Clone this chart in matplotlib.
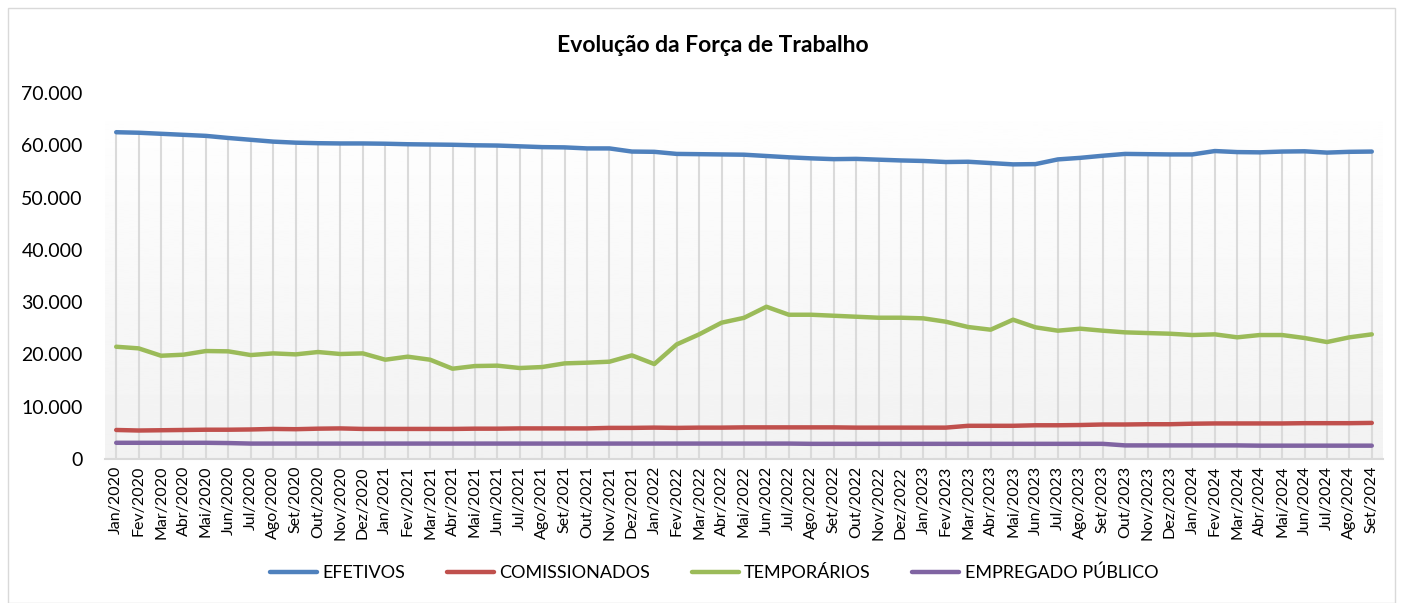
import numpy as np
import matplotlib
matplotlib.use("Agg")
import matplotlib.pyplot as plt
from matplotlib.ticker import FuncFormatter
from matplotlib.patches import Rectangle

plt.rcParams['font.family'] = ['Lato', 'DejaVu Sans']

meses = ["Jan", "Fev", "Mar", "Abr", "Mai", "Jun", "Jul", "Ago", "Set", "Out", "Nov", "Dez"]
anos = [2020, 2021, 2022, 2023, 2024]
rotulos = [f"{m}/{a}" for a in anos for m in meses][:57]

efetivos = [62500, 62400, 62200, 62000, 61800, 61400, 61050, 60700, 60500, 60400,
            60350, 60350, 60300, 60200, 60150, 60100, 60000, 59950, 59800, 59650,
            59600, 59400, 59400, 58800, 58750, 58350, 58300, 58250, 58200, 57950,
            57700, 57500, 57350, 57400, 57250, 57100, 57000, 56800, 56850, 56600,
            56350, 56400, 57300, 57600, 58000, 58350, 58300, 58250, 58250, 58900,
            58700, 58650, 58800, 58850, 58600, 58750, 58800]

comissionados = [5550, 5450, 5500, 5550, 5600, 5600, 5650, 5750, 5700, 5800,
                 5850, 5750, 5750, 5750, 5750, 5750, 5800, 5800, 5850, 5850,
                 5850, 5850, 5950, 5950, 6000, 5950, 6000, 6000, 6050, 6050,
                 6050, 6050, 6050, 6000, 6000, 6000, 6000, 6000, 6350, 6350,
                 6350, 6450, 6450, 6500, 6600, 6600, 6650, 6650, 6750, 6800,
                 6800, 6800, 6800, 6850, 6850, 6850, 6900]

temporarios = [21470, 21160, 19750, 19950, 20650, 20590, 19880, 20200, 20010, 20460,
               20080, 20200, 18990, 19570, 18990, 17270, 17780, 17850, 17400, 17590,
               18290, 18420, 18610, 19820, 18160, 21920, 23840, 26070, 27000, 29120,
               27590, 27590, 27400, 27210, 27020, 27020, 26900, 26260, 25240, 24730,
               26640, 25180, 24540, 24920, 24540, 24220, 24090, 23960, 23710, 23840,
               23270, 23710, 23710, 23140, 22370, 23270, 23840]

empregado_publico = [3100, 3100, 3100, 3100, 3100, 3050, 2950, 2950, 2950, 2950,
                     2950, 2950, 2950, 2950, 2950, 2950, 2950, 2950, 2950, 2950,
                     2950, 2950, 2950, 2950, 2950, 2950, 2950, 2950, 2950, 2950,
                     2950, 2900, 2900, 2900, 2900, 2900, 2900, 2900, 2900, 2900,
                     2900, 2900, 2900, 2900, 2900, 2600, 2600, 2600, 2600, 2600,
                     2600, 2550, 2550, 2550, 2550, 2550, 2550]

series = [("EFETIVOS", efetivos, "#4f81bd"),
          ("COMISSIONADOS", comissionados, "#c0504d"),
          ("TEMPORÁRIOS", temporarios, "#9bbb59"),
          ("EMPREGADO PÚBLICO", empregado_publico, "#8064a2")]

fig = plt.figure(figsize=(14.03, 6.03), dpi=100)
ax = fig.add_axes([105 / 1403, 1 - 459 / 603, 1278 / 1403, 366 / 603])

x = np.arange(len(rotulos))

# fundo em degrade, como no Excel
grad = np.linspace(1.0, 0.948, 256).reshape(-1, 1)
ax.imshow(grad, cmap="gray", vmin=0, vmax=1, aspect="auto",
          extent=(-0.5, len(x) - 0.5, 0, 70000), zorder=0)

# linhas de queda a partir da serie mais alta
ax.vlines(x, 0, efetivos, color="#dadada", lw=1.5, zorder=1)

for nome, vals, cor in series:
    ax.plot(x, vals, color=cor, lw=3.2, label=nome, zorder=3,
            solid_capstyle="round", solid_joinstyle="round")

ax.set_xlim(-0.5, len(x) - 0.5)
ax.set_ylim(0, 70000)
ax.set_yticks(range(0, 70001, 10000))
ax.yaxis.set_major_formatter(FuncFormatter(lambda v, p: f"{int(v):,}".replace(",", ".")))
ax.set_xticks(x)
ax.set_xticklabels(rotulos, rotation=90, fontsize=11.5)
ax.tick_params(axis="y", length=0, labelsize=14, pad=16)
ax.tick_params(axis="x", length=0, pad=5)

for s in ["top", "right", "left"]:
    ax.spines[s].set_visible(False)
ax.spines["bottom"].set_color("#d9d9d9")
ax.spines["bottom"].set_linewidth(1.5)

fig.text(0.508, 0.925, "Evolução da Força de Trabalho", ha="center", va="center",
         fontsize=16.5, fontweight="bold")

fig.legend(loc="center", bbox_to_anchor=(0.509, 0.05), ncol=4, frameon=False,
           fontsize=13, handlelength=2.6, handletextpad=0.3, columnspacing=2.3)

fig.add_artist(Rectangle((8 / 1403, 0), 1387 / 1403, 595 / 603, transform=fig.transFigure,
                         fill=False, edgecolor="#d9d9d9", lw=1.0))

fig.savefig("out.png", dpi=100)
